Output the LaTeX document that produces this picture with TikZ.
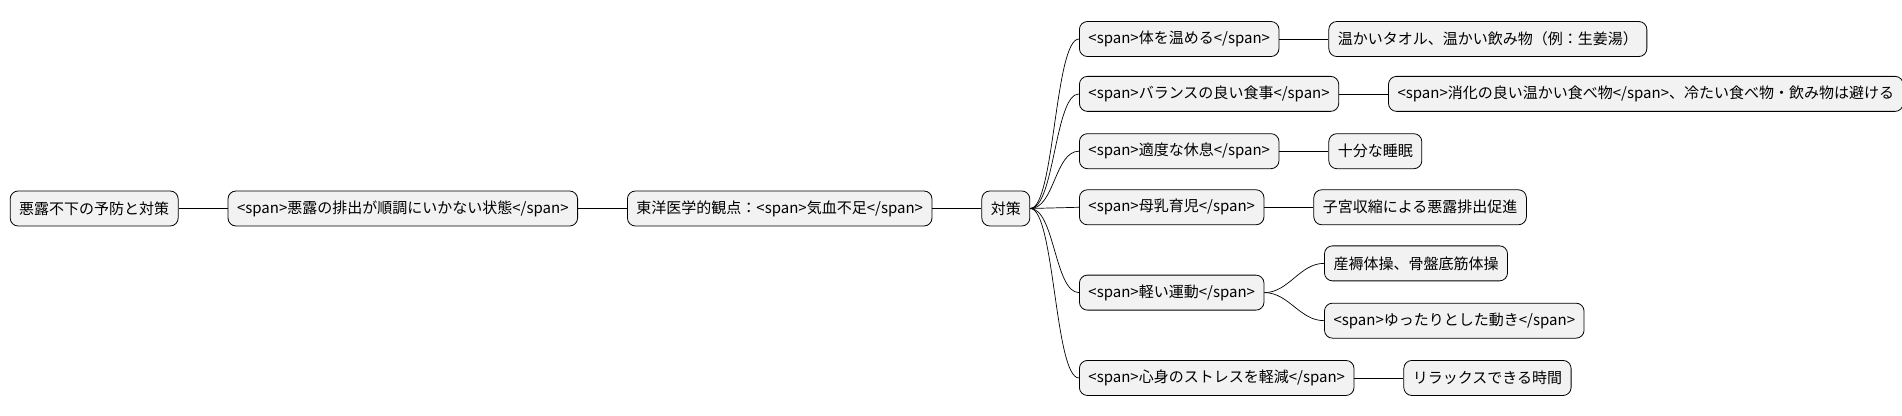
\documentclass[tikz,border=0pt]{standalone}
\usepackage{fontspec}
\setmainfont{Noto Sans CJK JP}
\usetikzlibrary{positioning}
\tikzset{
  topic/.style={draw, thick, rounded corners=8pt, fill=gray!10, minimum height=35pt,
    inner xsep=9pt, font=\fontsize{15pt}{17pt}\selectfont, anchor=west},
  link/.style={draw, line width=0.7pt}
}
\begin{document}
\begin{tikzpicture}[x=1.219pt, y=-1.219pt, node distance=49pt]
\useasboundingbox (0,0) rectangle (1560,340.4);

% main chain
\node[topic] (root) at (8,171) {悪露不下の予防と対策};
\node[topic, right=of root] (state) {<span>悪露の排出が順調にいかない状態</span>};
\node[topic, right=of state] (view) {東洋医学的観点：<span>気血不足</span>};
\node[topic, right=of view] (plan) {対策};

% measures
\node[topic] (warm) at (885,32) {<span>体を温める</span>};
\node[topic] (diet) at (885,77) {<span>バランスの良い食事</span>};
\node[topic] (rest) at (885,124) {<span>適度な休息</span>};
\node[topic] (milk) at (885,170) {<span>母乳育児</span>};
\node[topic] (move) at (885,240) {<span>軽い運動</span>};
\node[topic] (calm) at (885,310) {<span>心身のストレスを軽減</span>};

% details
\node[topic, right=of warm] (warmA) {温かいタオル、温かい飲み物（例：生姜湯）};
\node[topic, right=of diet] (dietA) {<span>消化の良い温かい食べ物</span>、冷たい食べ物・飲み物は避ける};
\node[topic, right=of rest] (restA) {十分な睡眠};
\node[topic, right=of milk] (milkA) {子宮収縮による悪露排出促進};
\node[topic] (moveA) at (1086,216) {産褥体操、骨盤底筋体操};
\node[topic] (moveB) at (1086,263) {<span>ゆったりとした動き</span>};
\node[topic, right=of calm] (calmA) {リラックスできる時間};

\draw[link] (root) -- (state);
\draw[link] (state) -- (view);
\draw[link] (view) -- (plan);
\foreach \m in {warm,diet,rest,milk,move,calm}
  \draw[link] (plan.east) .. controls +(20,0) and +(-20,0) .. (\m.west);
\foreach \a/\b in {warm/warmA,diet/dietA,rest/restA,milk/milkA,calm/calmA}
  \draw[link] (\a) -- (\b);
\foreach \b in {moveA,moveB}
  \draw[link] (move.east) .. controls +(20,0) and +(-20,0) .. (\b.west);
\end{tikzpicture}
\end{document}
